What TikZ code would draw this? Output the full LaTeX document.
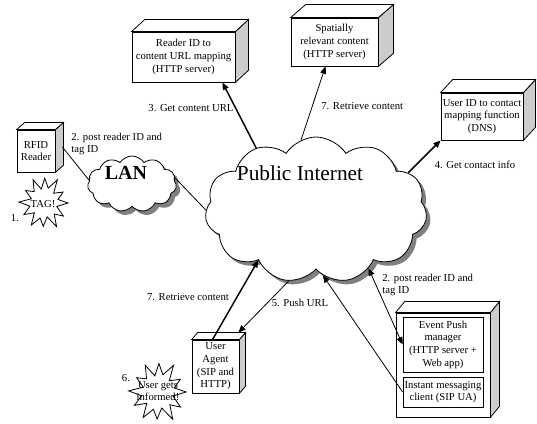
\documentclass[tikz,border=0pt]{standalone}
\usepackage{fontspec}
\setmainfont{Liberation Serif}
\usetikzlibrary{shapes.symbols,shadows,calc,arrows.meta}

\tikzset{
  server/.style={draw,fill=white,align=center,inner sep=1pt,
    font=\fontsize{8}{9.5}\selectfont},
  lbl/.style={align=left,inner sep=0pt,font=\fontsize{8}{9.5}\selectfont},
  net/.style={cloud,draw,fill=white,cloud puffs=11,cloud puff arc=115,aspect=1.6,
    drop shadow={shadow xshift=3pt,shadow yshift=-3pt,fill=gray,opacity=1}},
  link/.style={-{Triangle[length=5.5pt,width=4.5pt]}},
  heavy/.style={line width=1.1pt},
}

% side and top face of a box, #2 #3 = depth
\newcommand{\sidebox}[3]{%
  \filldraw[fill=gray!40] (#1.north east) -- ++(#2,#3) -- ($(#1.south east)+(#2,#3)$)
    -- (#1.south east) -- cycle;
  \filldraw[fill=white] (#1.north west) -- ++(#2,#3) -- ($(#1.north east)+(#2,#3)$)
    -- (#1.north east) -- cycle;}

% jagged star, centre #1, radii #2 #3
\newcommand{\bang}[3]{%
  \filldraw[fill=white] ($(#1)+(0:#2 and #3)$)
    \foreach \a/\f in {14/.55,32/.95,45/.6,60/1.05,76/.55,92/.9,106/.6,122/1,137/.55,
      152/.95,168/.6,182/1.05,197/.55,212/.9,227/.6,243/1,258/.55,272/.95,287/.6,
      302/1.05,317/.55,332/.9,347/.6}
    { -- ($(#1)+({\a}:{#2*\f} and {#3*\f})$) } -- cycle;}

\begin{document}
\begin{tikzpicture}[x=0.75pt,y=-0.75pt,line width=0.6pt]
  \useasboundingbox (0,0) rectangle (537,424);

  \node[server,minimum width=28.5pt,minimum height=31.5pt] (rfid) at (36,151) {RFID\\Reader};
  \sidebox{rfid}{8}{-7}
  \node[server,minimum width=77.25pt,minimum height=37.5pt] (urlmap) at (183.5,57)
    {Reader ID to\\content URL mapping\\(HTTP server)};
  \sidebox{urlmap}{13}{-12}
  \node[server,minimum width=65.25pt,minimum height=36pt] (spatial) at (334.5,42)
    {Spatially\\relevant content\\(HTTP server)};
  \sidebox{spatial}{15}{-13}
  \node[server,minimum width=61.5pt,minimum height=35.25pt] (dns) at (482,116.5)
    {User ID to contact\\mapping function\\(DNS)};
  \sidebox{dns}{12}{-13}
  \node[server,minimum width=35.25pt,minimum height=39.75pt] (ua) at (215.5,366.5)
    {User\\Agent\\(SIP and\\HTTP)};
  \sidebox{ua}{6}{-7}
  \node[server,minimum width=70.5pt,minimum height=78pt] (push) at (443,365) {};
  \sidebox{push}{9}{-11}
  \node[server,minimum width=60pt,minimum height=41.25pt] (epm) at (443,344.5)
    {Event Push\\manager\\(HTTP server +\\Web app)};
  \node[server,minimum width=60pt,minimum height=22.5pt] (im) at (443,392)
    {Instant messaging\\client (SIP UA)};

  \node[net,minimum width=66.75pt,minimum height=42pt] (lan) at (132,184) {};
  \node[font=\bfseries\fontsize{15}{18}\selectfont,inner sep=0pt] (lantxt) at (126,173) {LAN};
  \node[net,minimum width=166.5pt,minimum height=109.5pt] (inet) at (316,210) {};
  \node[font=\fontsize{16}{19}\selectfont,inner sep=0pt] (inettxt) at (300,173) {Public Internet};

  \bang{44,203}{24}{26}
  \node[lbl] (tagtxt) at (43,204) {TAG!};
  \node[lbl] (n1) at (15,218) {1.};
  \bang{158,392}{28}{30}
  \node[lbl,align=center] (informtxt) at (158,391) {User gets\\informed!};
  \node[lbl] (n6) at (126,378) {6.};

  \draw ($(rfid.east)+(7,-4)$) -- (lan.175);
  \draw (lan.8) -- (inet.180);
  \draw[link,heavy] (inet.134) -- ($(urlmap.south east)+(-13,0)$);
  \draw[link] (inet.102) -- ($(spatial.south)+(-9,0)$);
  \draw[link,heavy] (inet.22) -- (dns.south west);
  \draw[link,heavy] ($(ua.north)+(-3,0)$) -- (inet.221);
  \draw[link] (inet.249) -- ($(ua.north east)+(-1,-7)$);
  \draw[{Triangle[length=5.5pt,width=4.5pt]}-{Triangle[length=5.5pt,width=4.5pt]}]
    (inet.312) -- (epm.west);
  \draw[link] (im.west) -- (inet.276);

  \node[lbl,anchor=west] (l2a) at (71,144) {2. post reader ID and\\tag ID};
  \node[lbl] (l3) at (191,108) {3. Get content URL};
  \node[lbl,anchor=west] (l7a) at (321,106) {7. Retrieve content};
  \node[lbl] (l4) at (475,165) {4. Get contact info};
  \node[lbl] (l7b) at (188,297) {7. Retrieve content};
  \node[lbl] (l5) at (300,303) {5. Push URL};
  \node[lbl,anchor=west] (l2b) at (382,285) {2. post reader ID and\\tag ID};
\end{tikzpicture}
\end{document}
